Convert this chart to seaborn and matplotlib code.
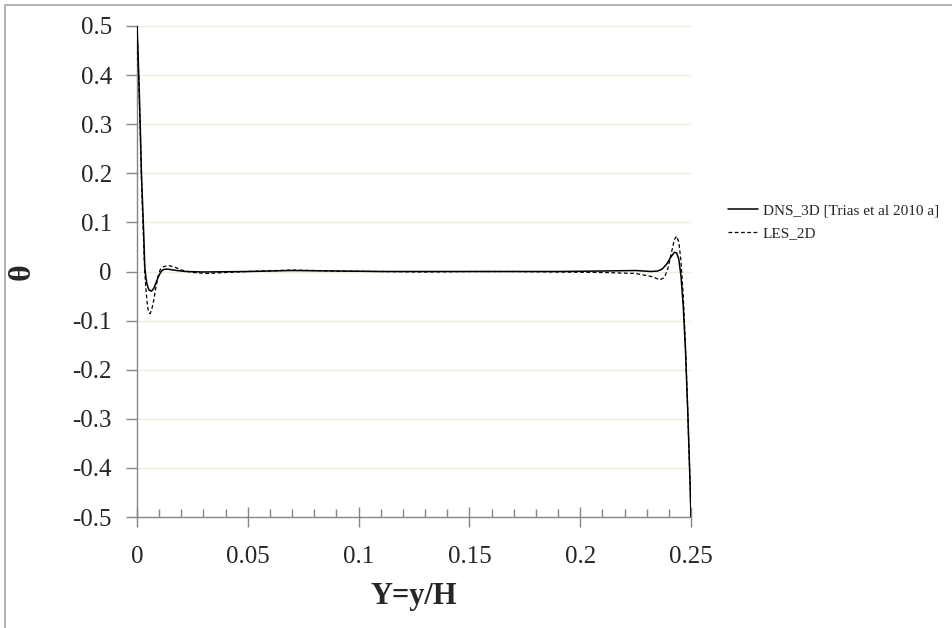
import matplotlib
matplotlib.use("Agg")
import matplotlib.pyplot as plt
from matplotlib.patches import Rectangle
import seaborn as sns
import numpy as np
import pandas as pd

# DNS_3D reference profile
dns_y = [0, 0.0005, 0.001, 0.0015, 0.002, 0.0025, 0.003, 0.0035, 0.004, 0.0045,
         0.005, 0.0055, 0.0065, 0.0075, 0.0085, 0.0095, 0.0105, 0.0115, 0.013, 0.015,
         0.018, 0.022, 0.03, 0.05, 0.07, 0.09, 0.11, 0.13, 0.15, 0.17,
         0.19, 0.21, 0.225, 0.232, 0.235, 0.237, 0.239, 0.241, 0.2425, 0.2435,
         0.2445, 0.2455, 0.2465, 0.2475, 0.2485, 0.2495, 0.25]
dns_theta = [0.5, 0.44, 0.37, 0.29, 0.2, 0.14, 0.08, 0.01, -0.012, -0.025,
             -0.033, -0.038, -0.04, -0.035, -0.024, -0.012, -0.003, 0.003, 0.005, 0.004,
             0.002, 0.0, -0.001, 0.0, 0.002, 0.001, 0.0, 0.0, 0.0, 0.0,
             0.0, 0.001, 0.002, 0.0, 0.001, 0.005, 0.015, 0.030, 0.039, 0.038,
             0.025, -0.01, -0.07, -0.16, -0.28, -0.42, -0.5]

# LES_2D profile
les_y = [0, 0.0005, 0.001, 0.0015, 0.002, 0.0025, 0.003, 0.0035, 0.004, 0.0045,
         0.005, 0.0058, 0.0065, 0.0075, 0.0085, 0.0095, 0.0105, 0.012, 0.0145, 0.017,
         0.02, 0.025, 0.032, 0.04, 0.05, 0.07, 0.09, 0.11, 0.13, 0.15,
         0.17, 0.19, 0.21, 0.225, 0.232, 0.236, 0.238, 0.2395, 0.241, 0.2425,
         0.2435, 0.2445, 0.2455, 0.2465, 0.2475, 0.2485, 0.2495, 0.25]
les_theta = [0.5, 0.43, 0.36, 0.28, 0.19, 0.12, 0.06, 0.0, -0.035, -0.06,
             -0.078, -0.086, -0.08, -0.06, -0.033, -0.01, 0.004, 0.010, 0.012, 0.009,
             0.003, -0.002, -0.004, -0.002, 0.0, 0.003, 0.001, 0.0, -0.001, 0.0,
             0.0, -0.001, -0.002, -0.004, -0.01, -0.017, -0.012, 0.005, 0.035, 0.065,
             0.072, 0.06, 0.02, -0.05, -0.15, -0.28, -0.42, -0.5]

x_ticks = [0, 0.05, 0.1, 0.15, 0.2, 0.25]
x_labels = ["0", "0.05", "0.1", "0.15", "0.2", "0.25"]
y_ticks = [0.5, 0.4, 0.3, 0.2, 0.1, 0, -0.1, -0.2, -0.3, -0.4, -0.5]
y_labels = ["0.5", "0.4", "0.3", "0.2", "0.1", "0", "-0.1", "-0.2", "-0.3", "-0.4", "-0.5"]

sns.set_style("white")
plt.rcParams['font.family'] = ['Liberation Serif', 'DejaVu Serif']

fig = plt.figure(figsize=(9.52, 6.28), dpi=100)
ax = fig.add_axes([137/952, 1-517/628, 554/952, 491/628])

dns = pd.DataFrame({"y": dns_y, "theta": dns_theta})
les = pd.DataFrame({"y": les_y, "theta": les_theta})

sns.lineplot(data=dns, x="y", y="theta", ax=ax, color="black", linewidth=1.1,
             sort=False, label="DNS_3D [Trias et al 2010 a]", zorder=3)
sns.lineplot(data=les, x="y", y="theta", ax=ax, color="black", linewidth=0.9,
             sort=False, label="LES_2D", zorder=4, dashes=False)
ax.lines[1].set_dashes([3, 2])

ax.set_xlim(0, 0.25)
ax.set_ylim(-0.5, 0.5)
ax.set_xticks(x_ticks)
ax.set_xticklabels(x_labels)
ax.set_xticks(np.arange(0, 0.2501, 0.01), minor=True)
ax.set_yticks(y_ticks)
ax.set_yticklabels(y_labels)

for y in y_ticks[:-1]:
    ax.axhline(y, color="#EDEDE0", linewidth=1.0, zorder=1)

for s in ["top", "right"]:
    ax.spines[s].set_visible(False)
for s in ["left", "bottom"]:
    ax.spines[s].set_color("#868686")
    ax.spines[s].set_linewidth(1.0)

ax.tick_params(axis="y", which="major", direction="out", length=8, width=1,
               color="#868686", labelsize=18, pad=10, left=True)
ax.tick_params(axis="x", which="major", direction="inout", length=14, width=1,
               color="#868686", labelsize=18, pad=14, bottom=True)
ax.tick_params(axis="x", which="minor", direction="in", length=6, width=1,
               color="#868686", bottom=True)

ax.set_xlabel("Y=y/H", fontsize=22, fontweight="bold", labelpad=10)
ax.set_ylabel("θ", fontsize=23, fontweight="bold", labelpad=26)

ax.legend_.remove()
handles, labels = ax.get_legend_handles_labels()
leg = fig.legend(handles, labels, loc="center left", bbox_to_anchor=(717/952, 1-222/628),
                 frameon=False, fontsize=11, handlelength=2.0, handletextpad=0.3,
                 labelspacing=0.55, borderpad=0.2)
leg.get_lines()[1].set_dashes([3, 2])

fig.patches.append(Rectangle((5/952, -0.01), 1.0, 1 - 5/628 + 0.01,
                             transform=fig.transFigure, fill=False,
                             edgecolor="#A6A6A6", linewidth=1.2))

fig.savefig("out.png", dpi=100)
